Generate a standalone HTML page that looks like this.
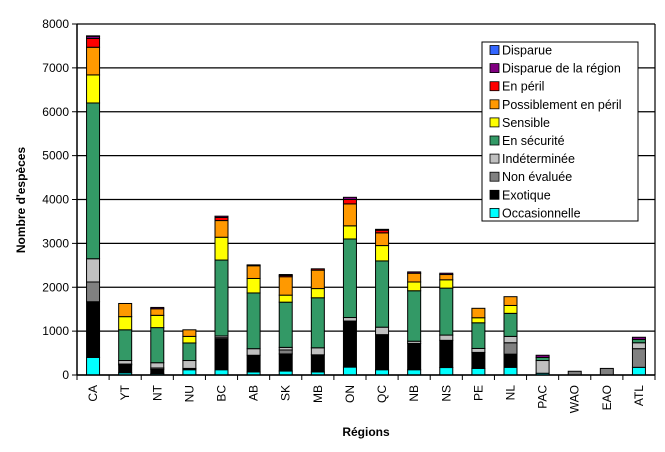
<!DOCTYPE html>
<html><head><meta charset="utf-8"><style>
body{margin:0;background:#fff;}
svg text{font-family:"Liberation Sans",Arial,sans-serif;}
</style></head><body>
<svg id="c" width="665" height="447" xmlns="http://www.w3.org/2000/svg"></svg>
<script>
const categories=["CA","YT","NT","NU","BC","AB","SK","MB","ON","QC","NB","NS","PE","NL","PAC","WAO","EAO","ATL"];
const seriesNames=["Occasionnelle","Exotique","Non évaluée","Indéterminée","En sécurité","Sensible","Possiblement en péril","En péril","Disparue de la région","Disparue"];
const occasionnelle=[400,50,30,120,120,70,90,70,180,120,120,170,150,175,40,0,0,175];
const exotique=[1270,180,100,30,700,380,390,390,1050,800,600,620,365,300,0,0,0,0];
const nonEvaluee=[450,20,30,0,30,0,90,0,0,0,0,0,0,260,0,85,150,425];
const indeterminee=[530,80,120,180,40,150,60,160,80,170,50,120,90,145,290,0,0,135];
const enSecurite=[3550,700,800,400,1730,1270,1030,1140,1790,1510,1150,1070,585,525,70,0,0,75];
const sensible=[640,300,280,150,520,330,160,210,300,350,200,190,115,180,0,0,0,0];
const possiblement=[630,300,150,150,380,290,420,420,500,290,200,120,215,200,0,0,0,0];
const enPeril=[200,0,0,0,70,0,30,30,100,60,0,0,0,0,0,0,0,0];
const disparueRegion=[50,0,30,0,30,20,20,0,50,20,30,30,0,0,50,0,0,50];
const disparue=[10,0,0,0,0,0,0,0,0,0,0,0,0,0,0,0,0,0];
const yTicks=[0,1000,2000,3000,4000,5000,6000,7000,8000];
const series=[occasionnelle,exotique,nonEvaluee,indeterminee,enSecurite,sensible,possiblement,enPeril,disparueRegion,disparue];
const colors=["#00ffff","#000000","#808080","#c0c0c0","#339966","#ffff00","#ff9900","#ff0000","#800080","#3366ff"];
const NS="http://www.w3.org/2000/svg";
const svg=document.getElementById('c');
const L=77,R=655,T=24,B=375,YMAX=8000;
const y=v=>B-(v/YMAX)*(B-T);
const bw=(R-L)/categories.length;
const x=i=>L+bw*i;
function mk(t,a,p){const e=document.createElementNS(NS,t);for(const k in a)e.setAttribute(k,a[k]);(p||svg).appendChild(e);return e;}
yTicks.forEach(v=>{
  const g=mk('line',{x1:L,x2:R,y1:y(v),y2:y(v),stroke:'#000','stroke-width':1.2});
  
  
  mk('line',{x1:L-5,x2:L,y1:y(v),y2:y(v),stroke:'#000'});
  const t=mk('text',{x:L-8,y:y(v)+4,'text-anchor':'end','font-size':12});
  t.textContent=v;
  
  
});
mk('line',{x1:L,x2:L,y1:T,y2:B,stroke:'#000','stroke-width':1.5});
mk('line',{x1:R,x2:R,y1:T,y2:B,stroke:'#000','stroke-width':1.2});
categories.forEach((c,i)=>{
  mk('line',{x1:x(i),x2:x(i),y1:B,y2:B+5,stroke:'#000'});
  let acc=0;
  series.forEach((s,k)=>{
    const v=s[i]; if(!v)return;
    const r=mk('rect',{x:x(i)+bw/2-6.5,y:y(acc+v),width:13,height:y(acc)-y(acc+v),fill:colors[k],stroke:'#000','stroke-width':1});
    
    
    acc+=v;
  });
  const cx=x(i)+bw/2, cy=B+10;
  const t=mk('text',{x:cx+4,y:cy,'text-anchor':'end','font-size':12,transform:`rotate(-90 ${cx+4} ${cy})`});
  t.textContent=c;
  
  
});
mk('line',{x1:R,x2:R,y1:B,y2:B+5,stroke:'#000'});
mk('line',{x1:L,x2:R,y1:B,y2:B,stroke:'#000','stroke-width':1.5});
const xt=mk('text',{x:366,y:436,'text-anchor':'middle','font-size':12,'font-weight':'bold'});xt.textContent='Régions';


const yt=mk('text',{x:25,y:200,'text-anchor':'middle','font-size':12,'font-weight':'bold',transform:'rotate(-90 25 200)'});yt.textContent="Nombre d'espèces";


const lg=mk('g',{});


mk('rect',{x:482,y:42,width:156,height:179,fill:'#fff',stroke:'#000'},lg);
for(let k=9;k>=0;k--){
  const row=9-k, cy=50+row*18.1;
  const e=mk('g',{},lg);
  
  
  mk('rect',{x:490,y:cy-4.5,width:9,height:9,fill:colors[k],stroke:'#000','stroke-width':0.8},e);
  const t=mk('text',{x:502,y:cy+4.5,'font-size':12.5},e);t.textContent=seriesNames[k];
}
</script>
</body></html>
